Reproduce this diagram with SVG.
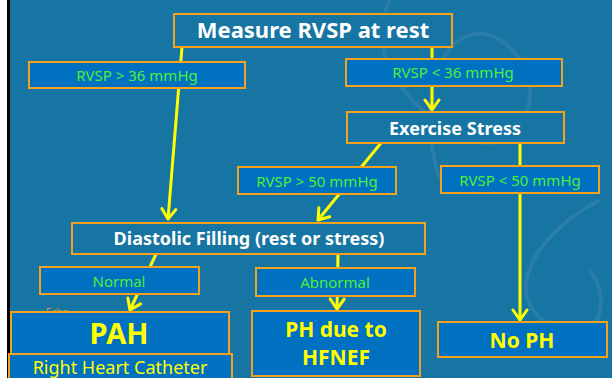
<svg xmlns="http://www.w3.org/2000/svg" width="612" height="378" viewBox="0 0 612 378">
<defs>
<style>
.box{fill:#0070c0;stroke:#f5a21b;stroke-width:2}
.title{fill:#ffffff;font-family:"Noto Sans","Open Sans",sans-serif;font-weight:bold;text-anchor:middle}
.cond{fill:#4cf03a;font-family:"Noto Sans","Open Sans",sans-serif;font-size:15px;text-anchor:middle}
.res{fill:#ffff00;font-family:"Noto Sans","Open Sans",sans-serif;font-weight:bold;text-anchor:middle}
.conn{stroke:#ffff00;stroke-width:3;fill:none;marker-end:url(#chev)}
</style>
<marker id="chev" markerUnits="userSpaceOnUse" markerWidth="24" markerHeight="24" viewBox="-12 -12 24 24" refX="0" refY="0" orient="auto">
<path d="M-10,-7 L0,0 L-10,7" fill="none" stroke="#ffff00" stroke-width="3" stroke-linecap="round" stroke-linejoin="round"/>
</marker>
</defs>
<rect x="0" y="0" width="612" height="378" fill="#ffffff"/>
<rect x="7" y="0" width="605" height="378" fill="#000000"/>
<rect x="10" y="0" width="602" height="378" fill="#1675a2"/>
<g fill="none" stroke="#5b93b8" stroke-width="4" opacity="0.3">
<path d="M390,0 C360,60 420,120 470,140 C520,160 560,80 500,40 C450,10 410,90 440,180"/>
<path d="M600,200 C540,230 490,300 560,330 C600,345 612,300 590,270"/>
</g>
<g id="connectors">
<line class="conn" x1="182" y1="47" x2="168" y2="219"/>
<line class="conn" x1="432" y1="47" x2="432" y2="110"/>
<line class="conn" x1="381" y1="143" x2="318" y2="220"/>
<line class="conn" x1="520" y1="143" x2="520" y2="320"/>
<line class="conn" x1="156" y1="254" x2="130" y2="310"/>
<line class="conn" x1="338" y1="254" x2="337" y2="309"/>
</g>
<g id="measure">
<rect class="box" x="174" y="14" width="278" height="33" style="fill:#1675a2"/>
<text class="title" x="313" y="38" font-size="22">Measure RVSP at rest</text>
</g>
<g id="c-gt36">
<rect class="box" x="29" y="62" width="216" height="26"/>
<text class="cond" x="137" y="81">RVSP &gt; 36 mmHg</text>
</g>
<g id="c-lt36">
<rect class="box" x="346" y="59" width="216" height="27"/>
<text class="cond" x="453" y="78">RVSP &lt; 36 mmHg</text>
</g>
<g id="exercise">
<rect class="box" x="347" y="112" width="217" height="31" style="fill:#1675a2"/>
<text class="title" x="455" y="135" font-size="18">Exercise Stress</text>
</g>
<g id="c-gt50">
<rect class="box" x="238" y="167" width="158" height="27"/>
<text class="cond" x="317" y="187">RVSP &gt; 50 mmHg</text>
</g>
<g id="c-lt50">
<rect class="box" x="441" y="166" width="158" height="27"/>
<text class="cond" x="520" y="186">RVSP &lt; 50 mmHg</text>
</g>
<g id="diastolic">
<rect class="box" x="72" y="223" width="353" height="31" style="fill:#1675a2"/>
<text class="title" x="249" y="245" font-size="18">Diastolic Filling (rest or stress)</text>
</g>
<g id="c-normal">
<rect class="box" x="40" y="267" width="159" height="27"/>
<text class="cond" x="119" y="287">Normal</text>
</g>
<g id="c-abnormal">
<rect class="box" x="256" y="268" width="159" height="28"/>
<text class="cond" x="335" y="288">Abnormal</text>
</g>
<g id="echo">
<text x="46" y="316" font-family="Noto Sans, sans-serif" font-size="10" fill="#c89a4a">Echo</text>
</g>
<g id="pah">
<rect class="box" x="11" y="312" width="218" height="42"/>
<text class="res" x="119" y="344" font-size="29">PAH</text>
</g>
<g id="rhc">
<rect class="box" x="9" y="354" width="223" height="30"/>
<text x="120" y="374" font-family="Noto Sans, sans-serif" font-size="18" fill="#ffff00" text-anchor="middle">Right Heart Catheter</text>
</g>
<g id="hfnef">
<rect class="box" x="252" y="311" width="168" height="65"/>
<text class="res" x="336" y="337" font-size="21">PH due to</text>
<text class="res" x="336" y="365" font-size="21">HFNEF</text>
</g>
<g id="noph">
<rect class="box" x="438" y="322" width="169" height="35"/>
<text class="res" x="522" y="348" font-size="21">No PH</text>
</g>
</svg>
